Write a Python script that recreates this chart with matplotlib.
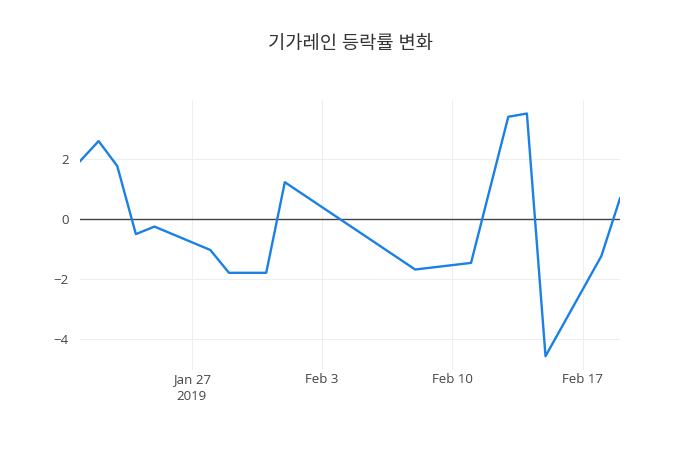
import matplotlib
matplotlib.use("Agg")
import matplotlib.pyplot as plt
import numpy as np
import pandas as pd

plt.rcParams['font.family'] = ['Open Sans', 'Noto Sans CJK KR', 'DejaVu Sans']

title = "기가레인 등락률 변화"
dates = pd.to_datetime([
    "2019-01-21", "2019-01-22", "2019-01-23", "2019-01-24", "2019-01-25",
    "2019-01-28", "2019-01-29", "2019-01-31", "2019-02-01",
    "2019-02-08", "2019-02-11", "2019-02-13", "2019-02-14", "2019-02-15",
    "2019-02-18", "2019-02-19",
])
change = [1.94, 2.61, 1.78, -0.49, -0.24,
          -1.02, -1.78, -1.78, 1.24,
          -1.67, -1.45, 3.42, 3.53, -4.56,
          -1.22, 0.70]
tick_dates = pd.to_datetime(["2019-01-27", "2019-02-03", "2019-02-10", "2019-02-17"])
tick_labels = ["Jan 27\n2019", "Feb 3", "Feb 10", "Feb 17"]
y_ticks = [-4, -2, 0, 2]

fig = plt.figure(figsize=(7, 4.5), dpi=100)
ax = fig.add_axes([80 / 700, 80 / 450, 540 / 700, 270 / 450])

ax.plot(dates, change, color="#1a80e6", linewidth=1.7, zorder=3)
ax.axhline(0, color="#444444", linewidth=1, zorder=2)

ax.set_xlim(dates[0], dates[-1])
ax.set_ylim(-5.02, 3.98)
ax.set_xticks(tick_dates)
ax.set_xticklabels(tick_labels)
ax.set_yticks(y_ticks)
ax.set_yticklabels(["\u22124", "\u22122", "0", "2"])

ax.grid(True, color="#eeeeee", linewidth=0.8, zorder=0)
for s in ax.spines.values():
    s.set_visible(False)
ax.tick_params(axis="x", length=0, colors="#444444", labelsize=9.5, pad=2)
ax.tick_params(axis="y", length=0, colors="#444444", labelsize=9.5, pad=8)
for lbl in ax.get_xticklabels():
    lbl.set_linespacing(1.4)

fig.suptitle(title, x=0.5, y=1 - 44 / 450, fontsize=13.5, color="#333333",
             va="center", fontweight="medium")

fig.savefig("out.png", dpi=100)
